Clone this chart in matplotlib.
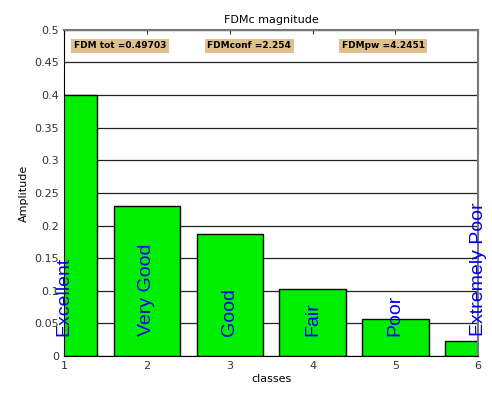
import matplotlib.pyplot as plt

classes = [1, 2, 3, 4, 5, 6]
amplitude = [0.400, 0.230, 0.187, 0.103, 0.057, 0.023]
class_names = ["Excellent", "Very Good", "Good", "Fair", "Poor", "Extremely Poor"]
fdm_labels = ["FDM tot =0.49703", "FDMconf =2.254", "FDMpw =4.2451"]
fdm_xpos = [1.12, 2.73, 4.35]

fig = plt.figure(figsize=(4.92, 3.94), dpi=100)
ax = fig.add_axes([0.130, 0.0964, 0.842, 0.828])

ax.set_axisbelow(True)
ax.yaxis.grid(True, color="#222222", linewidth=0.9)
ax.bar(classes, amplitude, width=0.8, color="#00ee00", edgecolor="black", linewidth=1.0)

for x, name in zip(classes, class_names):
    ax.text(x, 0.03, name, rotation=90, ha="center", va="bottom",
            color="#0000ee", fontsize=14, family="Liberation Sans")

# summary values across the top
for x, lab in zip(fdm_xpos, fdm_labels):
    ax.text(x, 0.4755, lab, ha="left", va="center", fontsize=6.5, fontweight="bold",
            family="DejaVu Sans",
            bbox=dict(boxstyle="square,pad=0.3", facecolor="#e0c08c", edgecolor="none"))

ax.set_xlim(1, 6)
ax.set_ylim(0, 0.5)
ax.set_xticks(classes)
ax.set_yticks([0, 0.05, 0.1, 0.15, 0.2, 0.25, 0.3, 0.35, 0.4, 0.45, 0.5])
ax.set_yticklabels(["0", "0.05", "0.1", "0.15", "0.2", "0.25", "0.3", "0.35", "0.4", "0.45", "0.5"])
ax.tick_params(labelsize=8, top=True, length=3, direction="in", colors="#333333")
for side in ["top", "right"]:
    ax.spines[side].set_color("#777777")
    ax.spines[side].set_linewidth(1.5)

ax.set_title("FDMc magnitude", fontsize=8, pad=5)
ax.set_xlabel("classes", fontsize=8, labelpad=2)
ax.set_ylabel("Amplitude", fontsize=8, labelpad=4)

fig.savefig("out.png", dpi=100)
